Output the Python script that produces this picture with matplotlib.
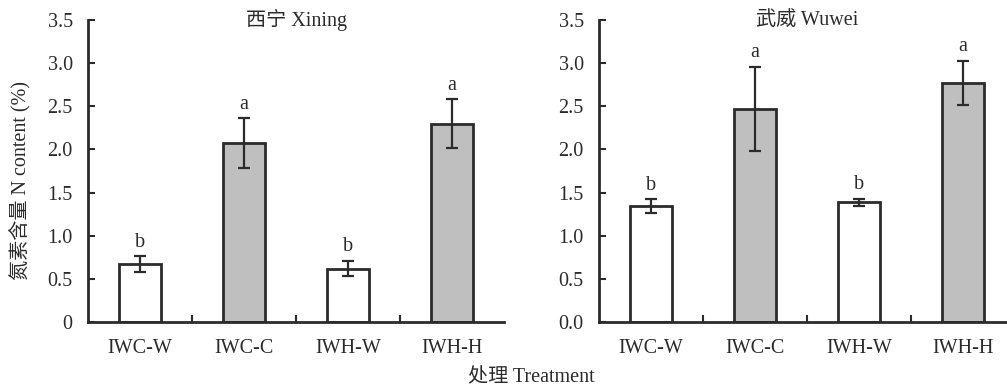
import numpy as np
import matplotlib.pyplot as plt
from matplotlib.ticker import FixedLocator, FuncFormatter

plt.rcParams["font.family"] = ["Liberation Serif", "Noto Sans CJK SC"]

treatments = ["IWC-W", "IWC-C", "IWH-W", "IWH-H"]
xining_mean = [0.67, 2.07, 0.62, 2.30]
xining_err = [0.09, 0.29, 0.09, 0.28]
wuwei_mean = [1.34, 2.47, 1.39, 2.77]
wuwei_err = [0.08, 0.49, 0.04, 0.26]
letters = ["b", "a", "b", "a"]
bar_colors = ["white", "#bfbfbf", "white", "#bfbfbf"]

dark = "#2b2b2b"
fs = 14.5

fig = plt.figure(figsize=(10.07, 3.9), dpi=100)
W, H = 1007, 390
ax1 = fig.add_axes([88 / W, (H - 322) / H, 416 / W, 302 / H])
ax2 = fig.add_axes([599 / W, (H - 322) / H, 416 / W, 302 / H])


def draw(ax, means, errs, title, zero_label):
    x = np.arange(len(treatments))
    ax.bar(x, means, width=0.4, color=bar_colors, edgecolor=dark, linewidth=2, zorder=2)
    ax.errorbar(x, means, yerr=errs, fmt="none", ecolor=dark, elinewidth=1.6,
                capsize=4, capthick=1.6, zorder=3)
    for xi, m, e, t in zip(x, means, errs, letters):
        ax.text(xi, m + e + 0.05, t, ha="center", va="bottom", fontsize=fs, color=dark)
    ax.set_xlim(-0.5, 3.5)
    ax.set_ylim(0, 3.5)
    ax.set_xticks(x)
    ax.set_xticklabels(treatments, fontsize=fs, color=dark)
    ax.xaxis.set_minor_locator(FixedLocator([0.5, 1.5, 2.5]))
    ax.tick_params(axis="x", which="major", length=0, pad=12)
    ax.tick_params(axis="x", which="minor", direction="in", length=5, width=1.5, color=dark)
    ax.set_yticks(np.arange(0, 3.51, 0.5))
    ax.yaxis.set_major_formatter(FuncFormatter(
        lambda v, p: zero_label if v == 0 else "%.1f" % v))
    ax.tick_params(axis="y", direction="in", length=5, width=1.5, color=dark,
                   labelsize=fs, labelcolor=dark, pad=11)
    for s in ["top", "right"]:
        ax.spines[s].set_visible(False)
    for s in ["left", "bottom"]:
        ax.spines[s].set_linewidth(2)
        ax.spines[s].set_color(dark)
    ax.text(0.5, 1.0, title, transform=ax.transAxes, ha="center", va="center",
            fontsize=fs, color=dark)


draw(ax1, xining_mean, xining_err, "西宁 Xining", "0")
draw(ax2, wuwei_mean, wuwei_err, "武威 Wuwei", "0.0")

fig.text(20 / W, 1 - 180 / H, "氮素含量 N content (%)", rotation=90, ha="center",
         va="center", fontsize=fs, color=dark)
fig.text(531 / W, 1 - 378 / H, "处理 Treatment", ha="center", va="center",
         fontsize=fs, color=dark)

fig.savefig("out.png", dpi=100)
